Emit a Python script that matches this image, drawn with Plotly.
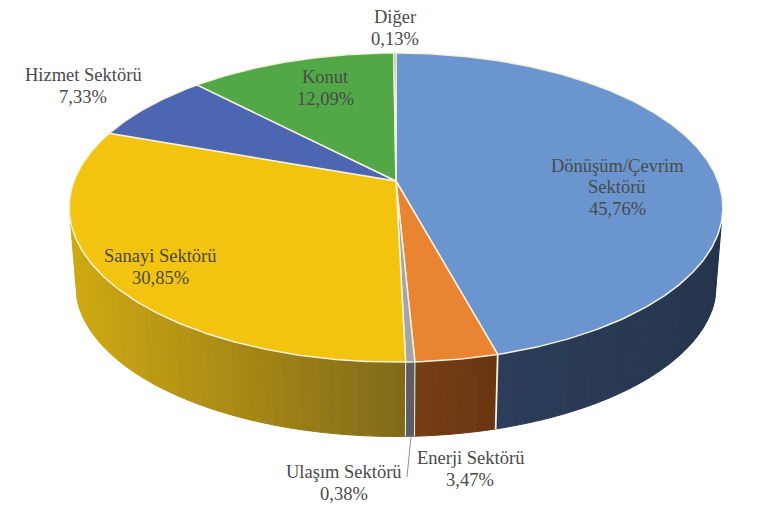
import numpy as np
import plotly.graph_objects as go

# Data (clockwise from 12 o'clock)
categories = ["Dönüşüm/Çevrim<br>Sektörü", "Enerji Sektörü", "Ulaşım Sektörü", "Sanayi Sektörü",
              "Hizmet Sektörü", "Konut", "Diğer"]
shares = [45.76, 3.47, 0.38, 30.85, 7.33, 12.09, 0.13]
share_labels = ["45,76%", "3,47%", "0,38%", "30,85%", "7,33%", "12,09%", "0,13%"]
top_colors = ["#6a95cf", "#e98432", "#a5a5a5", "#f2c30f", "#4d66b1", "#52a846", "#7f7f7f"]
wall_left = ["#2c3d5a", "#763e14", "#5c5d66", "#cfa912", "#2c3d5a", "#2c3d5a", "#2c3d5a"]
wall_right = ["#25354c", "#693512", "#5c5d66", "#80691a", "#25354c", "#25354c", "#25354c"]
label_pos = [(617, 187), (470, 469), (344, 483), (160, 267), (83, 86), (325, 88), (395, 28)]
label_color = "#4a4a4a"
rim_color = "#f6f1dc"

# Tilted-disc projection
CX, CY, A, B, K = 396.0, 181.0, 322.0, 150.0, 0.1716
DROP, SHRINK = 78.0, 0.98
LINE_GAP = 21.5


def rim(theta, bottom=False):
    X, Y = np.sin(theta), np.cos(theta)
    w = 1 + K * Y
    s, d = (SHRINK, DROP) if bottom else (1.0, 0.0)
    return CX + s * A * X / w, CY + d - s * B * Y / w


def mix(c1, c2, t):
    a = [int(c1[i:i + 2], 16) for i in (1, 3, 5)]
    b = [int(c2[i:i + 2], 16) for i in (1, 3, 5)]
    return "rgb(%d,%d,%d)" % tuple(round(p + (q - p) * t) for p, q in zip(a, b))


total = sum(shares)
edges = np.concatenate([[0], np.cumsum(shares)]) / total * 2 * np.pi
fig = go.Figure()


def poly(xs, ys, color, line=None, width=0.0):
    fig.add_trace(go.Scatter(x=list(xs), y=list(ys), mode="lines", fill="toself", fillcolor=color,
                             line=dict(color=line or color, width=width), hoverinfo="skip", showlegend=False))


# Side walls: strips, only where the rim faces the viewer
for i, (t0, t1) in enumerate(zip(edges[:-1], edges[1:])):
    lo, hi = max(t0, np.pi / 2 + 0.26), min(t1, 3 * np.pi / 2 - 0.26)
    if hi <= lo:
        continue
    n = max(2, int((hi - lo) / 0.025))
    th = np.linspace(lo, hi, n + 1)
    xa, _ = rim(th)
    span = max(abs(xa[-1] - xa[0]), 1e-6)
    xmin = min(xa)
    for a0, a1 in zip(th[:-1], th[1:]):
        sub = np.array([a0, a1])
        xt, yt = rim(sub)
        xb, yb = rim(sub, True)
        c = mix(wall_left[i], wall_right[i], (0.5 * (xt[0] + xt[1]) - xmin) / span)
        poly([xt[0], xt[1], xb[1], xb[0], xt[0]], [yt[0], yt[1], yb[1], yb[0], yt[0]], c, width=1)

# Light separators on the wall
for t in edges[1:-1]:
    if np.cos(t) < -0.9:
        xt, yt = rim(t)
        xb, yb = rim(t, True)
        wide = abs(np.sin(t)) > 0.2
        fig.add_trace(go.Scatter(x=[xt, xb], y=[yt, yb], mode="lines",
                                 line=dict(color=rim_color, width=1.8 if wide else 1),
                                 hoverinfo="skip", showlegend=False))

# Top faces
for i, (t0, t1) in enumerate(zip(edges[:-1], edges[1:])):
    th = np.linspace(t0, t1, max(3, int((t1 - t0) / 0.01)))
    xs, ys = rim(th)
    poly(np.r_[CX, xs, CX], np.r_[CY, ys, CY], top_colors[i], line=rim_color, width=1.5)

# Leader line for the small slice
mid = 0.5 * (edges[2] + edges[3])
xl, yl = rim(mid, True)
fig.add_trace(go.Scatter(x=[xl + 1, 407], y=[yl, 477], mode="lines", line=dict(color="#8a8fa8", width=1),
                         hoverinfo="skip", showlegend=False))

for name, lab, (x, y) in zip(categories, share_labels, label_pos):
    lines = name.split("<br>") + [lab]
    top = y - LINE_GAP * (len(lines) - 1) / 2
    for j, txt in enumerate(lines):
        fig.add_annotation(x=x, y=top + j * LINE_GAP, text=txt, showarrow=False, align="center",
                           font=dict(family="Liberation Serif", size=18.5, color=label_color))

fig.update_layout(width=762, height=506, margin=dict(l=0, r=0, t=0, b=0), autosize=False,
                  paper_bgcolor="white", plot_bgcolor="white",
                  xaxis=dict(range=[0, 762], visible=False, fixedrange=True),
                  yaxis=dict(range=[506, 0], visible=False, fixedrange=True))
fig.write_html("out.html", config=dict(displayModeBar=False),
               post_script="document.body.style.margin='0';document.body.style.overflow='hidden';")
